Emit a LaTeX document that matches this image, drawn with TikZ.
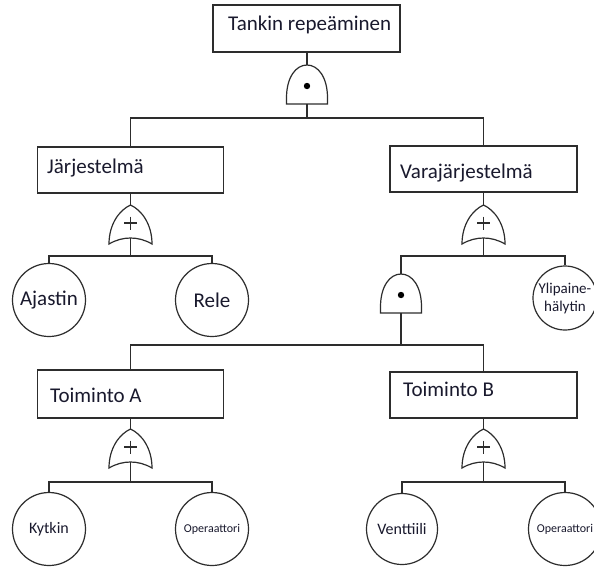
\documentclass[tikz,border=0pt]{standalone}
\usepackage{fontspec}
\setmainfont{Carlito}
\definecolor{lncol}{RGB}{45,45,45}
\definecolor{txcol}{RGB}{25,25,45}
\tikzset{
  ln/.style={draw=lncol, line width=1.2pt},
  eventbox/.style={ln, rectangle, inner sep=0pt},
  basic/.style={ln, circle, inner sep=0pt, text=txcol},
  lbl/.style={text=txcol, inner sep=0pt, anchor=west, font=\fontsize{21}{24}\selectfont},
  big/.style={font=\fontsize{21}{24}\selectfont},
  mid/.style={font=\fontsize{16}{19}\selectfont},
  small/.style={font=\fontsize{12}{14}\selectfont},
  andgate/.pic={
    \draw[ln, fill=white] (-20.5,0) -- (-20.5,-6) .. controls (-20.5,-27) and (-11,-39) .. (0,-39)
      .. controls (11,-39) and (20.5,-27) .. (20.5,-6) -- (20.5,0) -- cycle;
    \fill[black] (0,-18) circle (3.2pt);
    \coordinate (-top) at (0,-39);
    \coordinate (-bot) at (0,0);
  },
  orgate/.pic={
    \draw[ln, fill=white] (-21.5,0) .. controls (-8,-8) and (8,-8) .. (21.5,0)
      .. controls (21.5,-20) and (11,-34) .. (0,-39)
      .. controls (-11,-34) and (-21.5,-20) .. (-21.5,0) -- cycle;
    \draw[ln] (-6.5,-21) -- (6.5,-21) (0,-27.5) -- (0,-14.5);
    \coordinate (-top) at (0,-39);
    \coordinate (-bot) at (0,-6);
  }
}
\begin{document}
\begin{tikzpicture}[x=1pt, y=-1pt]
\useasboundingbox[fill=white] (0,0) rectangle (594,566);

% boxes
\node[eventbox, minimum width=187pt, minimum height=47pt] (t) at (306.5,28.5) {};
\node[lbl] (tt) at (228,25) {Tankin repeäminen};
\node[eventbox, minimum width=186pt, minimum height=46pt] (j) at (130.5,170) {};
\node[lbl] (jt) at (47,168) {Järjestelmä};
\node[eventbox, minimum width=187pt, minimum height=46pt] (v) at (483.5,169) {};
\node[lbl] (vt) at (400,173) {Varajärjestelmä};
\node[eventbox, minimum width=186pt, minimum height=48pt] (ta) at (130.5,394) {};
\node[lbl] (tat) at (50,395) {Toiminto A};
\node[eventbox, minimum width=187pt, minimum height=46pt] (tb) at (483.5,395) {};
\node[lbl] (tbt) at (403,389) {Toiminto B};

% gates
\pic (g1) at (307,104) {andgate};
\pic (g2) at (130.5,244) {orgate};
\pic (g3) at (483.5,244) {orgate};
\pic (g4) at (401,313) {andgate};
\pic (g5) at (130.5,468) {orgate};
\pic (g6) at (483.5,468) {orgate};

% basic events
\node[basic, big, minimum size=73pt] (aj) at (49,300) {Ajastin};
\node[basic, big, minimum size=73pt] (re) at (212,300) {Rele};
\node[basic, minimum size=64pt, align=center, font=\fontsize{15}{18}\selectfont] (yl) at (565,298) {Ylipaine-\\hälytin};
\node[basic, mid, minimum size=73pt] (ky) at (49,529) {Kytkin};
\node[basic, small, minimum size=73pt] (op1) at (212,529) {Operaattori};
\node[basic, mid, minimum size=71pt] (ve) at (402,529) {Venttiili};
\node[basic, small, minimum size=73pt] (op2) at (565,529) {Operaattori};

% fork levels
\coordinate (f1) at (307,118);
\coordinate (f2) at (130.5,256);
\coordinate (f3) at (483.5,256);
\coordinate (f4) at (401,345);
\coordinate (f5) at (130.5,482);
\coordinate (f6) at (483.5,482);

% connectors
\draw[ln] (t.south -| g1-top) -- (g1-top);
\draw[ln] (g1-bot) -- (f1);
\draw[ln] (j.north) -- (j.north |- f1) -- (v.north |- f1) -- (v.north);

\draw[ln] (j.south) -- (g2-top);
\draw[ln] (g2-bot) -- (f2);
\draw[ln] (aj.north) -- (aj.north |- f2) -- (re.north |- f2) -- (re.north);

\draw[ln] (v.south) -- (g3-top);
\draw[ln] (g3-bot) -- (f3);
\draw[ln] (g4-top) -- (g4-top |- f3) -- (yl.north |- f3) -- (yl.north);

\draw[ln] (g4-bot) -- (f4);
\draw[ln] (ta.north) -- (ta.north |- f4) -- (tb.north |- f4) -- (tb.north);

\draw[ln] (ta.south) -- (g5-top);
\draw[ln] (g5-bot) -- (f5);
\draw[ln] (ky.north) -- (ky.north |- f5) -- (op1.north |- f5) -- (op1.north);

\draw[ln] (tb.south) -- (g6-top);
\draw[ln] (g6-bot) -- (f6);
\draw[ln] (ve.north) -- (ve.north |- f6) -- (op2.north |- f6) -- (op2.north);
\end{tikzpicture}
\end{document}
